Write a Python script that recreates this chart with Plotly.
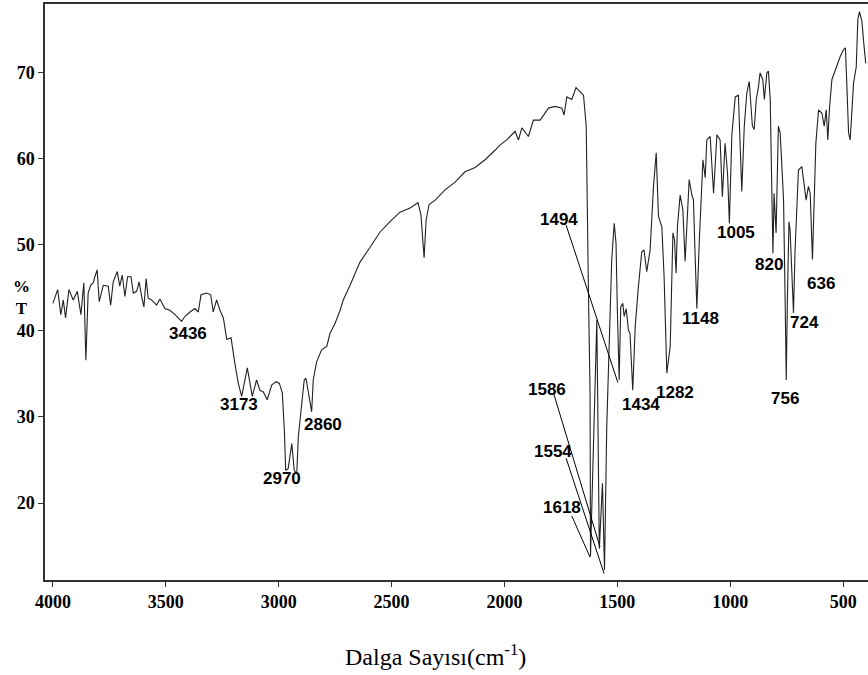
import plotly.graph_objects as go

# wavenumber (cm-1) and %T
wavenumber = [
    4000, 3979, 3965, 3954, 3944, 3929, 3910, 3892, 3876, 3863, 3854, 3844, 3833, 3821, 3814,
    3804, 3795, 3777, 3755, 3744, 3733, 3715, 3704, 3693, 3681, 3669, 3654, 3644, 3629, 3618,
    3607, 3597, 3587, 3578, 3563, 3541, 3526, 3504, 3482, 3459, 3430, 3415, 3393, 3371, 3356,
    3344, 3319, 3301, 3290, 3275, 3260, 3245, 3230, 3211, 3194, 3179, 3164, 3154, 3139, 3127,
    3117, 3098, 3083, 3068, 3051, 3031, 3012, 2997, 2984, 2975, 2969, 2958, 2942, 2931, 2920,
    2913, 2898, 2887, 2879, 2854, 2847, 2832, 2810, 2787, 2773, 2750, 2728, 2714, 2684, 2640,
    2596, 2551, 2507, 2463, 2418, 2383, 2370, 2356, 2347, 2334, 2307, 2263, 2219, 2175, 2130,
    2086, 2042, 2020, 1990, 1953, 1938, 1923, 1894, 1872, 1842, 1805, 1776, 1746, 1736, 1724,
    1702, 1683, 1665, 1650, 1638, 1635, 1628, 1621, 1619, 1591, 1580, 1566, 1557, 1547, 1532,
    1525, 1514, 1506, 1500, 1492, 1485, 1476, 1470, 1461, 1451, 1444, 1432, 1421, 1407, 1392,
    1382, 1370, 1355, 1340, 1328, 1318, 1303, 1293, 1281, 1266, 1254, 1247, 1240, 1234, 1222,
    1210, 1200, 1192, 1182, 1170, 1163, 1156, 1148, 1137, 1121, 1111, 1104, 1089, 1074, 1059,
    1045, 1035, 1023, 1012, 1004, 993, 978, 964, 956, 949, 938, 927, 916, 909, 902,
    894, 885, 875, 868, 856, 849, 838, 831, 823, 819, 811, 806, 797, 787, 779,
    772, 764, 757, 752, 747, 740, 735, 726, 720, 713, 705, 698, 683, 673, 664,
    654, 646, 636, 627, 621, 609, 594, 584, 575, 568, 561, 550, 535, 525, 513,
    498, 490, 484, 476, 469, 461, 454, 442, 435, 428, 417, 410, 400,
]
transmittance = [
    43.2, 44.8, 41.9, 43.6, 41.5, 44.8, 43.6, 44.6, 41.9, 45.6, 36.6, 44.4, 45.3, 45.6, 46.3,
    47.1, 43.4, 45.3, 45.2, 43.0, 45.7, 46.9, 45.2, 46.5, 44.0, 46.3, 46.3, 44.4, 44.6, 45.7,
    44.0, 42.8, 46.1, 43.8, 43.6, 43.0, 43.7, 42.6, 42.4, 41.9, 41.1, 41.7, 42.2, 42.6, 42.2,
    44.2, 44.4, 44.2, 42.2, 43.6, 42.4, 41.5, 39.0, 39.2, 36.2, 33.9, 32.4, 33.9, 35.7, 33.9,
    32.4, 34.3, 33.1, 32.9, 32.0, 33.7, 34.1, 33.9, 32.8, 28.5, 23.8, 24.0, 26.9, 23.8, 23.4,
    27.7, 31.6, 34.3, 34.5, 30.6, 34.3, 36.4, 37.8, 38.2, 39.7, 40.9, 42.4, 43.6, 45.3, 48.0,
    49.7, 51.5, 52.7, 53.8, 54.3, 54.9, 53.5, 48.5, 52.9, 54.7, 55.2, 56.4, 57.3, 58.5, 59.0,
    59.9, 61.0, 61.6, 62.2, 63.2, 62.2, 63.6, 62.6, 64.5, 64.5, 65.9, 66.1, 65.9, 65.1, 67.2,
    66.9, 68.3, 67.8, 67.4, 63.8, 56.0, 44.4, 32.8, 13.8, 41.3, 14.7, 22.3, 12.2, 28.9, 40.5,
    48.3, 52.5, 50.2, 42.4, 34.3, 42.8, 43.2, 41.7, 42.6, 40.1, 39.7, 33.1, 40.5, 45.1, 49.2,
    49.4, 46.9, 49.4, 56.8, 60.7, 53.3, 52.1, 46.3, 35.1, 38.2, 51.4, 50.6, 46.7, 52.1, 55.8,
    54.1, 48.1, 52.9, 57.6, 55.8, 55.2, 49.0, 42.6, 50.6, 59.9, 57.8, 62.2, 62.6, 56.0, 62.8,
    62.2, 55.6, 61.8, 58.3, 52.5, 62.8, 67.2, 67.4, 62.2, 56.2, 63.8, 67.6, 69.0, 66.9, 63.8,
    63.4, 66.9, 68.4, 70.0, 69.2, 66.9, 70.0, 70.2, 66.9, 61.0, 49.0, 56.0, 51.4, 63.8, 63.0,
    59.5, 55.2, 43.6, 34.3, 43.6, 52.7, 51.7, 45.5, 42.1, 49.4, 54.5, 58.7, 59.1, 56.8, 55.2,
    56.8, 56.0, 48.3, 57.9, 61.8, 65.7, 65.3, 63.8, 65.7, 62.2, 65.7, 69.2, 70.3, 71.1, 71.9,
    72.7, 72.9, 68.8, 63.0, 62.2, 65.3, 68.8, 70.7, 76.2, 77.1, 76.0, 73.8, 71.1,
]

# peak labels and where the text sits
peak_text = ["3436", "3173", "2970", "2860", "1494", "1586", "1554", "1618",
             "1434", "1282", "1148", "1005", "820", "636", "724", "756"]
peak_text_x = [3403, 3175, 2987, 2805, 1757, 1813, 1786, 1746,
               1396, 1244, 1130, 974, 828, 597, 673, 757]
peak_text_y = [39.7, 31.5, 22.9, 29.1, 53.0, 33.2, 26.0, 19.5,
               31.5, 32.9, 41.5, 51.4, 47.7, 45.5, 41.0, 32.1]

# leader lines: label end -> peak
leader_x0 = [1727, 1783, 1727, 1702]
leader_y0 = [52.3, 32.8, 25.2, 18.5]
leader_x1 = [1498, 1577, 1559, 1621]
leader_y1 = [34.0, 14.9, 11.8, 13.7]

serif = "Times New Roman, Liberation Serif, serif"
sans = "Arial, Liberation Sans, sans-serif"

fig = go.Figure()
fig.add_trace(go.Scatter(x=wavenumber, y=transmittance, mode="lines",
                         line=dict(color="#222222", width=1.1), showlegend=False))

for t, x, y in zip(peak_text, peak_text_x, peak_text_y):
    fig.add_annotation(x=x, y=y, text=t, showarrow=False, xanchor="center", yanchor="middle",
                       font=dict(family=sans, size=17, color="black", weight="bold"))

for x0, y0, x1, y1 in zip(leader_x0, leader_y0, leader_x1, leader_y1):
    fig.add_shape(type="line", x0=x0, y0=y0, x1=x1, y1=y1, xref="x", yref="y",
                  line=dict(color="black", width=1))

fig.add_annotation(x=-0.0283, y=0.491, xref="paper", yref="paper", text="%<br>T",
                   showarrow=False, xanchor="center", yanchor="middle",
                   font=dict(family=serif, size=17, color="black", weight="bold"))
fig.add_annotation(x=0.474, y=-0.13, xref="paper", yref="paper",
                   text="Dalga Sayısı(cm<sup>-1</sup>)", showarrow=False,
                   xanchor="center", yanchor="middle",
                   font=dict(family=serif, size=24, color="black"))

fig.update_layout(
    width=868, height=675,
    margin=dict(l=45, r=0, t=4, b=95),
    plot_bgcolor="white", paper_bgcolor="white",
    xaxis=dict(range=[4035, 390], tickvals=[4000, 3500, 3000, 2500, 2000, 1500, 1000, 500],
               ticks="outside", ticklen=5, tickcolor="#333", showline=True, linecolor="#333",
               linewidth=1.5, mirror=True, showgrid=False, zeroline=False,
               tickfont=dict(family=serif, size=18, color="black", weight="bold")),
    yaxis=dict(range=[11.05, 78], tickvals=[20, 30, 40, 50, 60, 70],
               ticks="outside", ticklen=5, tickcolor="#333", showline=True, linecolor="#333",
               linewidth=1.5, showgrid=False, zeroline=False,
               tickfont=dict(family=serif, size=18, color="black", weight="bold")),
)

fig.write_html("out.html", config={"displayModeBar": False},
               post_script="document.body.style.margin='0';")
